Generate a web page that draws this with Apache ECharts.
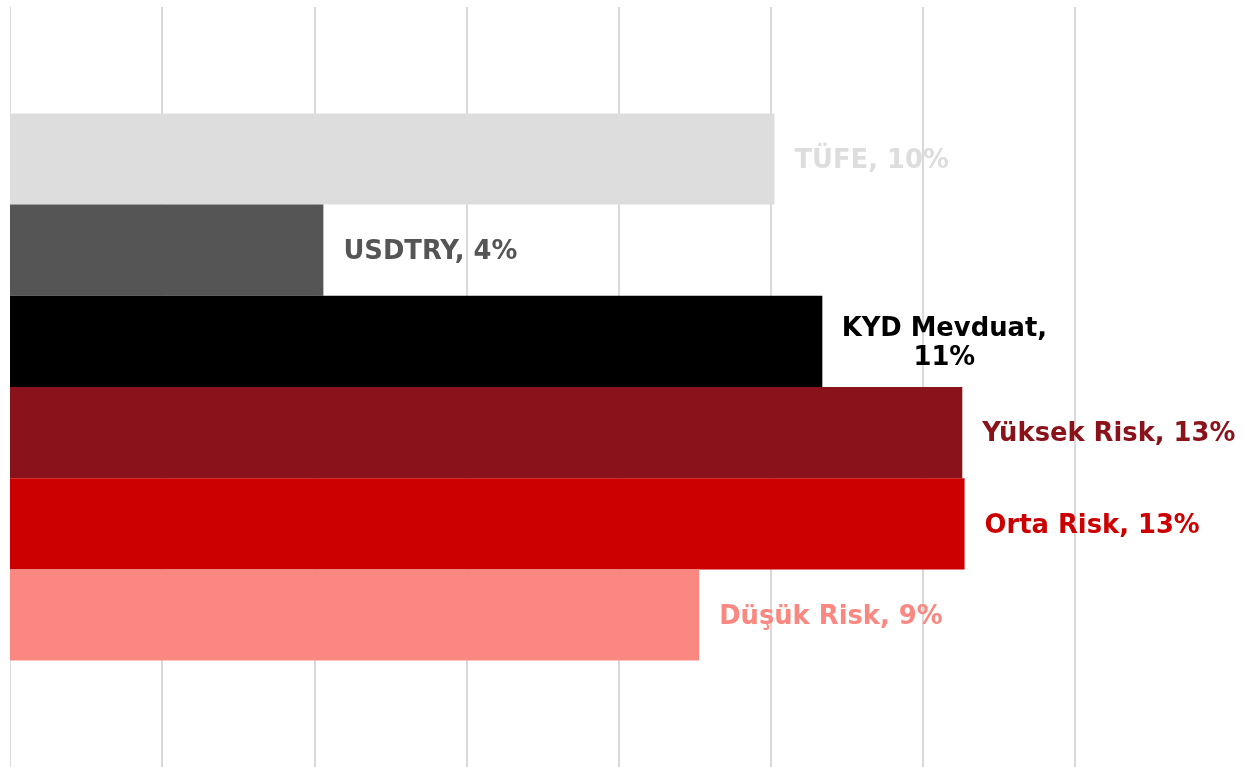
<!DOCTYPE html>
<html>
<head>
<meta charset="utf-8">
<script src="https://cdn.jsdelivr.net/npm/echarts@6/dist/echarts.min.js"></script>
<style>
  html, body { margin: 0; padding: 0; background: #fff; }
  #chart { width: 1244px; height: 767px; }
</style>
</head>
<body>
<div id="chart"></div>
<script>
// top to bottom
const seriesNames = ['TÜFE', 'USDTRY', 'KYD Mevduat', 'Yüksek Risk', 'Orta Risk', 'Düşük Risk'];
const seriesValues = [10.05, 4.12, 10.68, 12.52, 12.55, 9.06];
const seriesLabels = ['TÜFE, 10%', 'USDTRY, 4%', 'KYD Mevduat,\n11%', 'Yüksek Risk, 13%', 'Orta Risk, 13%', 'Düşük Risk, 9%'];
const seriesColors = ['#dddddd', '#555555', '#000000', '#8a131b', '#cc0000', '#fa8780'];

let myChart = echarts.init(document.getElementById('chart'));

let series = seriesNames.map(function (name, i) {
  let multiLine = seriesLabels[i].indexOf('\n') >= 0;
  return {
    name: name,
    type: 'bar',
    barGap: '0%',
    barWidth: 91.2,
    data: [seriesValues[i]],
    itemStyle: { color: seriesColors[i] },
    label: {
      show: true,
      position: 'right',
      distance: 20,
      formatter: seriesLabels[i],
      color: seriesColors[i],
      fontFamily: 'DejaVu Sans',
      fontWeight: 'bold',
      fontSize: 25.8,
      lineHeight: 29,
      align: multiLine ? 'center' : 'left',
      offset: multiLine ? [102, 2] : [0, 2]
    }
  };
});

let option = {
  animation: false,
  grid: { left: 10, right: 17, top: 7, bottom: 0, containLabel: false },
  xAxis: {
    type: 'value',
    min: 0,
    max: 16,
    interval: 2,
    axisLabel: { show: false },
    axisTick: { show: false },
    axisLine: { show: false },
    splitLine: {
      show: true,
      lineStyle: {
        width: 2,
        color: ['transparent', '#d9d9d9', '#d9d9d9', '#d9d9d9', '#d9d9d9',
          '#d9d9d9', '#d9d9d9', '#d9d9d9', 'transparent']
      }
    }
  },
  yAxis: {
    type: 'category',
    data: [''],
    axisLabel: { show: false },
    axisTick: { show: false },
    axisLine: { show: true, lineStyle: { color: '#dddddd', width: 1 } }
  },
  series: series
};

myChart.setOption(option);
window.addEventListener('resize', function () { myChart.resize(); });
</script>
</body>
</html>
